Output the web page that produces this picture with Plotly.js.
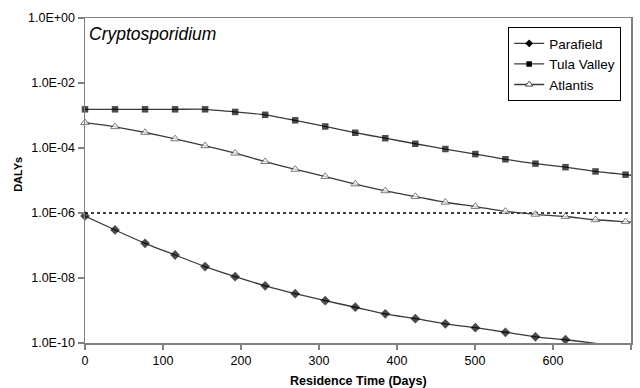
<!DOCTYPE html>
<html>
<head>
<meta charset="utf-8">
<script src="https://cdn.plot.ly/plotly-3.0.1.min.js"></script>
<style>html,body{margin:0;padding:0;background:#fff;}#chart{width:640px;height:388px;}</style>
</head>
<body>
<div id="chart"></div>
<script>
// Residence time (days); last entry is the line end at the axis edge (no marker)
const days = [0, 38.5, 77, 115.5, 154, 192.5, 231, 269.5, 308, 346.5, 385, 423.5, 462, 500.5, 539, 577.5, 616, 654.5, 693, 700];

const parafield = [8.1e-7, 3.0e-7, 1.17e-7, 5.1e-8, 2.24e-8, 1.10e-8, 5.75e-9, 3.3e-9, 2.0e-9, 1.26e-9, 7.9e-10, 5.6e-10, 3.9e-10, 2.95e-10, 2.14e-10, 1.55e-10, 1.26e-10, 9.8e-11, 7.6e-11, 7.1e-11];
const tulaValley = [1.55e-3, 1.55e-3, 1.55e-3, 1.55e-3, 1.55e-3, 1.29e-3, 1.05e-3, 7.1e-4, 4.6e-4, 2.95e-4, 2.0e-4, 1.35e-4, 9.3e-5, 6.5e-5, 4.5e-5, 3.3e-5, 2.57e-5, 1.9e-5, 1.51e-5, 1.45e-5];
const atlantis = [6.0e-4, 4.5e-4, 3.0e-4, 1.9e-4, 1.17e-4, 6.9e-5, 3.8e-5, 2.2e-5, 1.32e-5, 7.8e-6, 4.8e-6, 3.2e-6, 2.14e-6, 1.58e-6, 1.12e-6, 9.1e-7, 7.8e-7, 6.2e-7, 5.4e-7, 5.25e-7];

const threshold = [1e-6, 1e-6];
const thresholdDays = [0, 700];

const yTickVals = [1e0, 1e-2, 1e-4, 1e-6, 1e-8, 1e-10];
const yTickText = ["1.0E+00", "1.0E-02", "1.0E-04", "1.0E-06", "1.0E-08", "1.0E-10"];
const xTickVals = [0, 100, 200, 300, 400, 500, 600, 700];

const seriesNames = ['Parafield', 'Tula Valley', 'Atlantis'];
const chartTitle = "Cryptosporidium";
const xTitle = "Residence Time (Days)";
const yTitle = "DALYs";

function sizes(s) { const a = days.map(() => s); a[a.length - 1] = 0; return a; }

const lineColor = '#3a3a3a';
const FONT = 'Arial, Liberation Sans, sans-serif';
const markerStyles = [
  {symbol: 'diamond', color: '#000', line: {width: 0}},
  {symbol: 'square', color: '#000', line: {width: 0}},
  {symbol: 'triangle-up', color: '#fff', line: {color: '#444', width: 1}}
];
const plotSizes = [7.5, 6.5, 7.5];
const legendSizes = [6, 5.5, 6.5];
const seriesData = [parafield, tulaValley, atlantis];

const traces = [
  {x: thresholdDays, y: threshold, mode: 'lines', line: {color: '#000', width: 1.3, dash: 'dot'}, showlegend: false, hoverinfo: 'skip'}
];
seriesData.forEach((ys, i) => {
  traces.push({name: seriesNames[i], x: days, y: ys, mode: 'lines+markers', cliponaxis: false, showlegend: false,
    line: {color: lineColor, width: 1.3, shape: 'spline', smoothing: 0.6},
    marker: Object.assign({}, markerStyles[i], {size: sizes(plotSizes[i])})});
});
seriesData.forEach((ys, i) => {
  traces.push({name: seriesNames[i], x: [null], y: [null], mode: 'lines+markers', showlegend: true,
    line: {color: lineColor, width: 1.3},
    marker: Object.assign({}, markerStyles[i], {size: legendSizes[i]})});
});

const axisFont = {family: FONT, size: 12.5, color: '#000'};
const layout = {
  width: 640, height: 388,
  margin: {l: 85, r: 9, t: 18, b: 45, autoexpand: false},
  paper_bgcolor: '#fff', plot_bgcolor: '#fff',
  showlegend: true,
  legend: {x: 0.982, y: 0.972, xanchor: 'right', yanchor: 'top', bgcolor: '#fff', bordercolor: '#000', borderwidth: 1,
           font: {family: FONT, size: 13.5, color: '#000'}, itemwidth: 30, tracegroupgap: 0},
  xaxis: {range: [0, 700], tickvals: xTickVals, ticks: 'outside', ticklen: 5, tickcolor: '#808080', tickwidth: 1.5,
          showline: true, linecolor: '#808080', linewidth: 1.5, mirror: true, showgrid: false, zeroline: false,
          tickfont: axisFont},
  yaxis: {type: 'log', range: [-10, 0], tickvals: yTickVals, ticktext: yTickText, ticks: 'outside', ticklen: 6, tickcolor: '#808080', tickwidth: 1.5,
          showline: true, linecolor: '#808080', linewidth: 1.5, mirror: true, showgrid: false, zeroline: false,
          tickfont: axisFont},
  annotations: [
    {text: chartTitle, xref: 'paper', yref: 'paper', x: 0.004, y: 0.95, xanchor: 'left', yanchor: 'middle', showarrow: false,
     font: {family: FONT, size: 17.5, style: 'italic', color: '#000'}},
    {text: '<b>' + xTitle + '</b>', xref: 'paper', yref: 'paper', x: 0.5, y: -0.117, xanchor: 'center', yanchor: 'middle', showarrow: false,
     font: {family: FONT, size: 12.5, color: '#000'}},
    {text: '<b>' + yTitle + '</b>', xref: 'paper', yref: 'paper', x: -0.123, y: 0.52, xanchor: 'center', yanchor: 'middle', textangle: -90, showarrow: false,
     font: {family: FONT, size: 11, color: '#000'}}
  ]
};

Plotly.newPlot('chart', traces, layout, {displayModeBar: false, staticPlot: true});
</script>
</body>
</html>
